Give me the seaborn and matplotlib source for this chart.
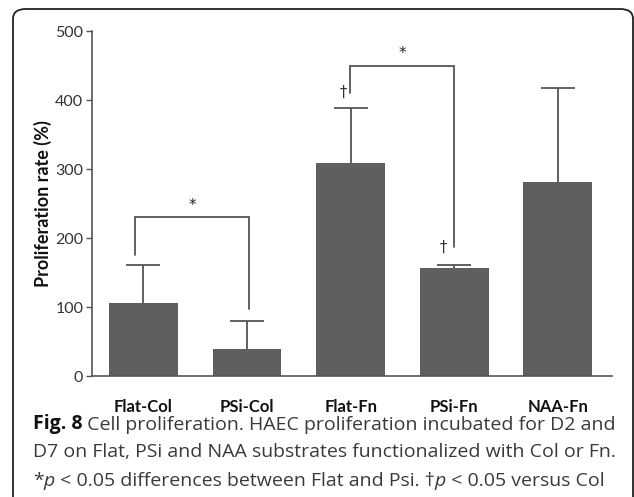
import matplotlib
matplotlib.use("Agg")
import matplotlib.pyplot as plt
import seaborn as sns
import pandas as pd
from matplotlib.patches import FancyBboxPatch

# data
groups = ["Flat-Col", "PSi-Col", "Flat-Fn", "PSi-Fn", "NAA-Fn"]
rate = [107, 40, 309, 157, 281]
err_top = [162, 80, 388, 161, 418]

# significance brackets: (left x, right x, top, left leg end, right leg end, label)
brackets = [
    (-0.08, 1.02, 231, 176, 98, "*"),
    (1.99, 3.0, 450, 411, 188, "*"),
]
daggers = [(1.93, 412), (2.89, 187)]

caption_l1 = " Cell proliferation. HAEC proliferation incubated for D2 and"
caption_l2 = "D7 on Flat, PSi and NAA substrates functionalized with Col or Fn."

sns.set_theme(style="white")
plt.rcParams["font.family"] = ["Lato", "DejaVu Sans"]

df = pd.DataFrame({"group": groups, "rate": rate})

fig = plt.figure(figsize=(6.34, 4.97), dpi=100)
ax = fig.add_axes([0.1446, 0.2425, 0.8202, 0.6951])

bar_col = "#5f5f5f"
sns.barplot(data=df, x="group", y="rate", color=bar_col, saturation=1,
            width=0.665, errorbar=None, ax=ax, linewidth=0, zorder=2)

xs = range(len(groups))
eb = ax.errorbar(xs, rate, yerr=[[0] * len(rate), [e - r for e, r in zip(err_top, rate)]],
                 fmt="none", ecolor="#555555", elinewidth=1.3, capsize=12.5, capthick=1.3, zorder=1)
# only the upper cap is shown
eb[1][0].set_visible(False)

for x0, x1, top, l_end, r_end, lab in brackets:
    ax.plot([x0, x0, x1, x1], [l_end, top, top, r_end], color="#555555", lw=1.3,
            solid_joinstyle="miter")
    ax.text((x0 + x1) / 2, top + 6, lab, ha="center", va="bottom", fontsize=11, color="#222222",
            family=["DejaVu Sans"])

for dx, dy in daggers:
    ax.text(dx, dy, "\u2020", ha="center", va="center", fontsize=10.5, color="#333333",
            family=["DejaVu Sans"])

ax.set_xlim(-0.5, 4.52)
ax.set_ylim(0, 500)
ax.set_yticks([0, 100, 200, 300, 400, 500])
ax.set_xlabel("")
ax.set_ylabel("Proliferation rate (%)", fontsize=13, fontweight="bold", color="#111111", labelpad=2)
ax.tick_params(axis="y", left=True, length=4, width=1, color="#555555", labelsize=11.5,
               labelcolor="#333333", pad=2)
ax.tick_params(axis="x", bottom=False, labelsize=12, pad=10)
for t in ax.get_xticklabels():
    t.set_fontweight("bold")
    t.set_color("#111111")
sns.despine(ax=ax)
for s in ["left", "bottom"]:
    ax.spines[s].set_color("#555555")
    ax.spines[s].set_linewidth(1.2)

# rounded frame around figure + caption
W, H = 634, 497
box = FancyBboxPatch((13 / W, -10 / H), (633 - 13) / W, (497 - 9 + 10) / H,
                     boxstyle="round,pad=0,rounding_size=0.02", transform=fig.transFigure,
                     fill=False, edgecolor="#222222", linewidth=1.3, clip_on=False)
fig.patches.append(box)

cap_fs = 14.0
cap_font = ["Open Sans", "DejaVu Sans"]
cap_col = "#3a3a3a"
x0 = 33 / W
t = fig.text(x0, 1 - 429 / H, "Fig. 8", fontsize=cap_fs, fontweight="bold", va="baseline",
             family=cap_font, color="#111111")
ax.annotate(caption_l1, xy=(1, 0), xycoords=t, va="bottom", fontsize=cap_fs,
            family=cap_font, color=cap_col, annotation_clip=False)
fig.text(x0, 1 - 457 / H, caption_l2, fontsize=cap_fs, va="baseline", family=cap_font, color=cap_col)
parts = [("*", "normal"), ("p", "italic"), (" < 0.05 differences between Flat and Psi. \u2020", "normal"),
         ("p", "italic"), (" < 0.05 versus Col", "normal")]
prev = fig.text(x0, 1 - 486 / H, parts[0][0], fontsize=cap_fs, va="baseline", family=cap_font,
                color=cap_col)
for txt, sty in parts[1:]:
    prev = ax.annotate(txt, xy=(1, 0), xycoords=prev, va="bottom", fontsize=cap_fs,
                       family=cap_font, style=sty, color=cap_col, annotation_clip=False)

fig.savefig("out.png", dpi=100)
